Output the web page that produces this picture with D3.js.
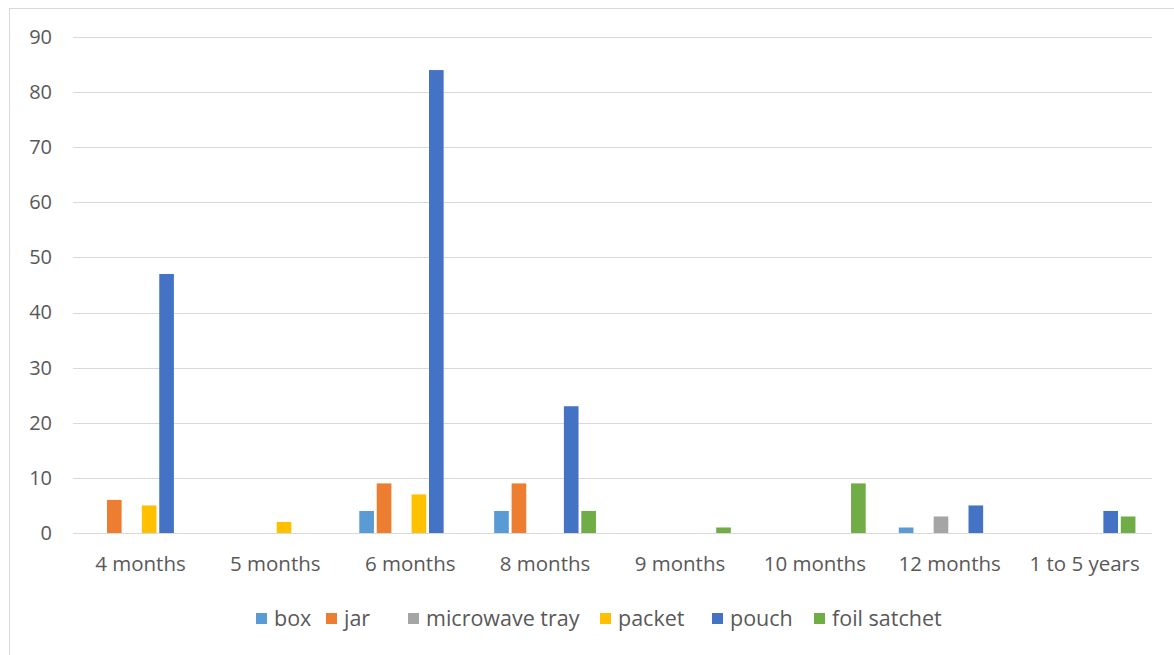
<!DOCTYPE html>
<html>
<head>
<meta charset="utf-8">
<script src="https://cdn.jsdelivr.net/npm/d3@7"></script>
<style>
  html, body { margin: 0; padding: 0; background: #fff; }
  svg { display: block; }
  text { font-family: "Open Sans", "Noto Sans", sans-serif; fill: #595959; }
</style>
</head>
<body>
<svg id="chart" width="1174" height="655"></svg>
<script>
const categories = ["4 months", "5 months", "6 months", "8 months", "9 months", "10 months", "12 months", "1 to 5 years"];
const seriesNames = ["box", "jar", "microwave tray", "packet", "pouch", "foil satchet"];
const seriesColors = ["#5B9BD5", "#ED7D31", "#A5A5A5", "#FFC000", "#4472C4", "#70AD47"];
const boxValues = [0, 0, 4, 4, 0, 0, 1, 0];
const jarValues = [6, 0, 9, 9, 0, 0, 0, 0];
const microwaveTrayValues = [0, 0, 0, 0, 0, 0, 3, 0];
const packetValues = [5, 2, 7, 0, 0, 0, 0, 0];
const pouchValues = [47, 0, 84, 23, 0, 0, 5, 4];
const foilSatchetValues = [0, 0, 0, 4, 1, 9, 0, 3];
const yTicks = [0, 10, 20, 30, 40, 50, 60, 70, 80, 90];

const seriesValues = [boxValues, jarValues, microwaveTrayValues, packetValues, pouchValues, foilSatchetValues];

const svg = d3.select("#chart");
const W = 1174, H = 655;

// outer frame
svg.append("rect").attr("x", 9.5).attr("y", 8.5).attr("width", W + 10).attr("height", H + 10)
  .attr("fill", "#fff").attr("stroke", "#D9D9D9").attr("stroke-width", 1);

const plotLeft = 73, plotRight = 1152, plotTop = 37, plotBottom = 533;

const x = d3.scaleBand().domain(categories).range([plotLeft, plotRight]).paddingInner(0).paddingOuter(0);
const x1 = d3.scaleBand().domain(seriesNames).range([0, x.bandwidth()]).paddingInner(0.16).paddingOuter(0.95);
const y = d3.scaleLinear().domain([0, 90]).range([plotBottom, plotTop]);

// gridlines
svg.append("g").selectAll("line").data(yTicks).join("line")
  .attr("x1", plotLeft).attr("x2", plotRight)
  .attr("y1", d => Math.round(y(d)) + 0.5).attr("y2", d => Math.round(y(d)) + 0.5)
  .attr("stroke", "#D9D9D9").attr("stroke-width", 1);

// y axis labels
const yAxis = d3.axisLeft(y).tickValues(yTicks).tickSize(0).tickPadding(0);
const gy = svg.append("g").attr("transform", `translate(52,0)`).call(yAxis);
gy.select(".domain").remove();
gy.selectAll("text").attr("font-size", 20).attr("fill", "#595959")
  .style("font-family", "'Open Sans', sans-serif");

// bars
const groups = svg.append("g").selectAll("g").data(categories).join("g")
  .attr("transform", d => `translate(${x(d)},0)`);
groups.selectAll("rect")
  .data((c, ci) => seriesNames.map((s, si) => ({ s, si, v: seriesValues[si][ci] })).filter(d => d.v > 0))
  .join("rect")
  .attr("x", d => x1(d.s))
  .attr("width", x1.bandwidth())
  .attr("y", d => y(d.v))
  .attr("height", d => y(0) - y(d.v))
  .attr("fill", d => seriesColors[d.si]);

// x axis labels
const xAxis = d3.axisBottom(x).tickSize(0).tickPadding(0);
const gx = svg.append("g").attr("transform", `translate(0,${plotBottom + 23})`).call(xAxis);
gx.select(".domain").remove();
gx.selectAll("text").attr("font-size", 20.5).attr("fill", "#595959")
  .style("font-family", "'Open Sans', sans-serif");

// legend
const legendX = [256, 326, 408, 600, 712, 814];
const legend = svg.append("g").selectAll("g").data(seriesNames).join("g")
  .attr("transform", (d, i) => `translate(${legendX[i]},618)`);
legend.append("rect").attr("x", 0).attr("y", -5).attr("width", 11).attr("height", 11)
  .attr("fill", (d, i) => seriesColors[i]);
legend.append("text").attr("x", 18).attr("y", 0).attr("dy", "0.35em")
  .attr("font-size", 21.5).text(d => d);
</script>
</body>
</html>
